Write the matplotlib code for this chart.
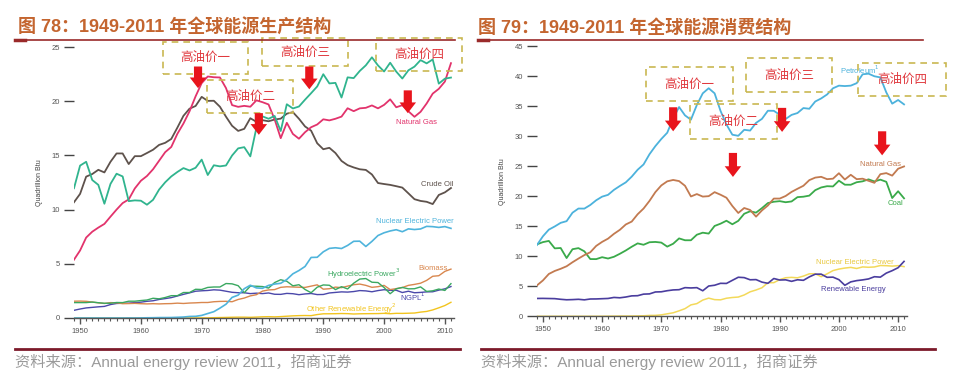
import matplotlib
matplotlib.use('Agg')
import matplotlib.pyplot as plt
import numpy as np
from matplotlib.patches import Rectangle
from matplotlib.lines import Line2D

plt.rcParams['font.family'] = ['Liberation Sans', 'Noto Sans CJK SC']

years = np.arange(1949, 2012)

# ---- production (quadrillion Btu), 1949..2011
prod_crude = [10.68,
              11.45, 13.04, 13.28, 13.67, 13.43, 14.41, 15.18, 15.18, 14.20, 14.93,
              14.93, 15.22, 15.52, 15.97, 16.16, 16.52, 17.56, 18.65, 19.31, 19.56,
              20.40, 20.03, 20.04, 19.49, 18.57, 17.73, 17.26, 17.45, 18.43, 18.10,
              18.25, 18.15, 18.31, 18.39, 18.85, 18.99, 18.38, 17.67, 17.28, 16.12,
              15.57, 15.70, 15.22, 14.49, 14.10, 13.89, 13.72, 13.66, 13.24, 12.45,
              12.36, 12.28, 12.16, 12.03, 11.50, 10.96, 10.80, 10.72, 10.51, 11.35,
              11.59, 11.99]
prod_gas = [5.38,
            6.23, 7.42, 7.96, 8.34, 8.68, 9.35, 10.00, 10.60, 10.94, 11.95,
            12.66, 13.10, 13.72, 14.51, 15.30, 15.78, 16.99, 17.94, 19.07, 20.45,
            21.67, 22.28, 22.21, 22.19, 21.21, 19.64, 19.48, 19.57, 19.49, 20.08,
            19.91, 19.70, 18.32, 16.59, 18.01, 16.98, 16.54, 17.14, 17.60, 17.85,
            18.33, 18.23, 18.38, 18.58, 19.35, 19.08, 19.34, 19.39, 19.61, 19.34,
            19.66, 20.17, 19.44, 19.63, 19.07, 18.56, 19.02, 19.79, 20.70, 21.14,
            21.81, 23.51]
prod_coal = [11.97,
             14.06, 14.41, 12.73, 12.28, 10.54, 12.37, 13.31, 13.06, 10.78, 10.85,
             10.82, 10.45, 10.90, 11.85, 12.52, 13.06, 13.47, 13.83, 13.61, 13.86,
             14.61, 13.19, 14.09, 13.99, 14.07, 14.99, 15.65, 15.76, 14.91, 17.54,
             18.60, 18.38, 18.64, 17.25, 19.72, 19.33, 19.51, 20.14, 20.74, 21.36,
             22.49, 21.64, 21.69, 20.34, 22.20, 22.13, 22.79, 23.31, 24.05, 23.30,
             22.74, 23.55, 22.73, 22.09, 22.85, 23.19, 23.79, 23.49, 23.85, 21.62,
             22.08, 22.18]
prod_ngpl = [0.71,
             0.83, 0.93, 0.98, 1.03, 1.07, 1.24, 1.34, 1.36, 1.37, 1.42,
             1.46, 1.54, 1.59, 1.71, 1.79, 1.88, 2.03, 2.18, 2.32, 2.47,
             2.51, 2.54, 2.60, 2.57, 2.47, 2.37, 2.33, 2.33, 2.25, 2.29,
             2.25, 2.31, 2.19, 2.18, 2.27, 2.24, 2.15, 2.22, 2.26, 2.16,
             2.17, 2.31, 2.36, 2.41, 2.39, 2.44, 2.53, 2.50, 2.42, 2.53,
             2.61, 2.55, 2.56, 2.35, 2.47, 2.33, 2.36, 2.41, 2.42, 2.57,
             2.69, 2.90]
nuclear = [0,
           0, 0, 0, 0, 0, 0, 0, 0, 0.002, 0.002,
           0.006, 0.02, 0.026, 0.038, 0.04, 0.043, 0.064, 0.088, 0.142, 0.154,
           0.239, 0.413, 0.584, 0.910, 1.272, 1.900, 2.111, 2.702, 3.024, 2.776,
           2.739, 3.008, 3.131, 3.203, 3.553, 4.076, 4.380, 4.754, 5.587, 5.602,
           6.104, 6.422, 6.479, 6.410, 6.694, 7.075, 7.087, 6.597, 7.068, 7.610,
           7.862, 8.029, 8.145, 7.959, 8.222, 8.161, 8.215, 8.455, 8.427, 8.356,
           8.434, 8.269]
prod_hydro = [1.42,
              1.42, 1.42, 1.47, 1.41, 1.36, 1.36, 1.43, 1.42, 1.55, 1.55,
              1.61, 1.66, 1.82, 1.77, 1.89, 2.06, 2.06, 2.35, 2.35, 2.65,
              2.63, 2.82, 2.86, 2.86, 3.18, 3.15, 2.98, 2.33, 2.94, 2.93,
              2.90, 2.76, 3.27, 3.53, 3.39, 2.97, 3.07, 2.63, 2.33, 2.84,
              3.05, 3.02, 2.62, 2.89, 2.68, 3.21, 3.59, 3.64, 3.30, 3.27,
              2.81, 2.24, 2.69, 2.82, 2.69, 2.70, 2.87, 2.45, 2.51, 2.67,
              2.54, 3.17]
prod_biomass = [1.55,
                1.56, 1.54, 1.47, 1.40, 1.34, 1.42, 1.40, 1.32, 1.33, 1.35,
                1.32, 1.30, 1.32, 1.30, 1.32, 1.33, 1.37, 1.34, 1.38, 1.40,
                1.43, 1.43, 1.50, 1.53, 1.54, 1.50, 1.71, 1.84, 2.04, 2.15,
                2.48, 2.59, 2.62, 2.83, 2.88, 2.86, 2.84, 2.82, 2.94, 3.06,
                2.66, 2.70, 2.85, 2.80, 2.94, 3.07, 3.13, 3.01, 2.83, 2.89,
                3.01, 2.62, 2.71, 2.81, 3.01, 3.10, 3.21, 3.47, 3.85, 3.90,
                4.30, 4.51]
prod_other = [0,
              0, 0, 0, 0, 0, 0, 0, 0, 0, 0,
              0.001, 0.002, 0.002, 0.004, 0.004, 0.004, 0.004, 0.007, 0.009, 0.009,
              0.011, 0.012, 0.031, 0.043, 0.053, 0.070, 0.078, 0.077, 0.064, 0.084,
              0.110, 0.123, 0.105, 0.129, 0.165, 0.198, 0.219, 0.229, 0.217, 0.317,
              0.386, 0.390, 0.397, 0.413, 0.401, 0.368, 0.389, 0.396, 0.403, 0.408,
              0.430, 0.394, 0.430, 0.425, 0.441, 0.459, 0.543, 0.606, 0.745, 0.940,
              1.15, 1.45]

# ---- consumption
cons_petro = [11.88,
              13.32, 14.43, 14.96, 15.56, 15.84, 17.25, 17.94, 17.93, 18.53, 19.32,
              19.92, 20.22, 21.05, 21.70, 22.30, 23.25, 24.40, 25.28, 26.98, 28.34,
              29.52, 30.56, 32.95, 34.84, 33.45, 32.73, 35.18, 37.12, 37.97, 37.12,
              34.20, 31.93, 30.23, 30.05, 31.05, 30.92, 32.20, 32.87, 34.22, 34.21,
              33.55, 32.85, 33.53, 33.84, 34.67, 34.55, 35.76, 36.27, 36.93, 37.96,
              38.40, 38.33, 38.40, 38.81, 40.29, 40.39, 39.96, 39.77, 37.28, 35.40,
              36.01, 35.28]
cons_gas = [5.15,
            5.97, 7.05, 7.55, 7.91, 8.33, 9.00, 9.61, 10.19, 10.66, 11.72,
            12.39, 12.93, 13.73, 14.40, 15.29, 15.77, 16.99, 17.94, 19.21, 20.68,
            21.79, 22.47, 22.70, 22.51, 21.73, 19.95, 20.35, 19.93, 20.00, 20.67,
            20.24, 19.74, 18.36, 17.20, 18.03, 17.70, 16.59, 17.63, 18.45, 19.60,
            19.60, 20.03, 20.71, 21.23, 21.73, 22.67, 23.09, 23.22, 22.83, 22.91,
            23.82, 22.77, 23.56, 22.83, 22.91, 22.56, 22.22, 23.66, 23.84, 23.42,
            24.57, 24.95]
cons_coal = [11.98,
             12.35, 12.55, 11.31, 11.37, 9.70, 11.17, 11.35, 10.82, 9.53, 9.52,
             9.84, 9.62, 9.91, 10.41, 10.96, 11.58, 12.14, 11.91, 12.33, 12.38,
             12.27, 11.60, 12.08, 12.97, 12.66, 12.66, 13.58, 13.92, 13.77, 15.04,
             15.42, 15.91, 15.32, 15.89, 17.07, 17.48, 17.26, 18.01, 18.85, 19.07,
             19.17, 18.99, 19.12, 19.84, 19.91, 20.09, 21.00, 21.45, 21.66, 21.62,
             22.58, 21.91, 21.90, 22.32, 22.47, 22.80, 22.45, 22.75, 22.39, 19.69,
             20.82, 19.64]
cons_renew = [2.97,
              2.98, 2.96, 2.94, 2.83, 2.75, 2.78, 2.83, 2.74, 2.88, 2.89,
              2.93, 2.97, 3.14, 3.08, 3.21, 3.40, 3.43, 3.69, 3.73, 4.05,
              4.08, 4.26, 4.39, 4.43, 4.77, 4.72, 4.77, 4.25, 5.04, 5.17,
              5.49, 5.47, 5.99, 6.50, 6.44, 6.08, 6.11, 5.69, 5.49, 6.29,
              6.04, 6.07, 5.82, 6.08, 5.99, 6.56, 7.01, 7.02, 6.49, 6.52,
              6.10, 5.16, 5.73, 5.94, 6.06, 6.22, 6.59, 6.52, 7.19, 7.60,
              8.09, 9.14]

# annotation boxes: (label, x0, x1, y0, y1) in data units
boxes_prod = [('高油价一', 1963.7, 1977.6, 22.5, 25.5),
              ('高油价二', 1970.9, 1985.0, 18.9, 22.0),
              ('高油价三', 1979.9, 1994.1, 23.25, 25.8),
              ('高油价四', 1998.7, 2012.8, 22.8, 25.8)]
arrows_prod = [(1969.4, 23.2, 21.2), (1979.4, 18.9, 16.9),
               (1987.7, 23.2, 21.1), (2003.9, 21.0, 18.9)]
boxes_cons = [('高油价一', 1967.4, 1982.1, 35.8, 41.5),
              ('高油价二', 1974.8, 1989.5, 29.5, 35.3),
              ('高油价三', 1984.3, 1998.8, 37.3, 43.0),
              ('高油价四', 2003.2, 2018.1, 36.7, 42.2)]
arrows_cons = [(1972.0, 34.8, 30.8), (1982.1, 27.2, 23.2),
               (1990.4, 34.7, 30.7), (2007.3, 30.8, 26.8)]

W, H = 955, 381
fig = plt.figure(figsize=(W / 100, H / 100), dpi=100)


def fx(px):
    return px / W


def fy(py):
    return 1 - py / H


def style_axes(ax, ymax, ystep):
    ax.set_xlim(1949, 2011.5)
    ax.set_ylim(0, ymax)
    for s in ['top', 'right', 'left']:
        ax.spines[s].set_visible(False)
    ax.spines['bottom'].set_color('#555555')
    ax.spines['bottom'].set_linewidth(1.0)
    ax.set_yticks(np.arange(0, ymax + 1, ystep))
    ax.set_xticks(np.arange(1950, 2011, 10))
    ax.set_xticks(np.arange(1949, 2012, 1), minor=True)
    ax.tick_params(axis='y', direction='out', length=7, width=1.0, color='#444444',
                   labelsize=5.5, labelcolor='#555555', pad=3)
    ax.tick_params(axis='x', which='major', direction='out', length=4, width=1.0,
                   color='#555555', labelsize=5.5, labelcolor='#555555', pad=3)
    ax.tick_params(axis='x', which='minor', direction='out', length=2.5, width=0.8,
                   color='#555555')
    ax.set_ylabel('Quadrillion Btu', fontsize=5, color='#444444', labelpad=6)


def annotate(ax, boxes, arrows):
    for label, x0, x1, y0, y1 in boxes:
        ax.add_patch(Rectangle((x0, y0), x1 - x0, y1 - y0, fill=False,
                               edgecolor='#c9b852', lw=1.2, linestyle=(0, (4, 3)),
                               clip_on=False, zorder=5))
        ax.text((x0 + x1) / 2, (y0 + y1) / 2, label, ha='center', va='center',
                fontsize=9, color='#e0393e', family='Noto Sans CJK SC',
                clip_on=False, zorder=6)
    for x, y0, y1 in arrows:
        ax.annotate('', xy=(x, y1), xytext=(x, y0),
                    arrowprops=dict(arrowstyle='simple,head_length=0.55,head_width=0.85,tail_width=0.42',
                                    fc='#e8141c', ec='none', mutation_scale=14,
                                    shrinkA=0, shrinkB=0),
                    annotation_clip=False, zorder=7)


# ---------------- left: production
ax1 = fig.add_axes([fx(74), fy(318), fx(454) - fx(74), (318 - 47) / H])
style_axes(ax1, 25, 5)
ax1.plot(years, prod_other, color='#f2c41e', lw=1.0)
ax1.plot(years, prod_ngpl, color='#4b48aa', lw=1.0)
ax1.plot(years, prod_biomass, color='#d9874e', lw=1.0)
ax1.plot(years, prod_hydro, color='#3aa860', lw=1.0)
ax1.plot(years, nuclear, color='#4fb4dc', lw=1.2)
ax1.plot(years, prod_crude, color='#5e524c', lw=1.3)
ax1.plot(years, prod_gas, color='#e2336c', lw=1.3)
ax1.plot(years, prod_coal, color='#30b48e', lw=1.3)

lab = dict(fontsize=5.5, clip_on=False)
ax1.text(2005.4, 18.0, 'Natural Gas', color='#e2336c', ha='center', va='center', **lab)
ax1.text(2011.4, 12.27, 'Crude Oil', color='#5e524c', ha='right', va='center', **lab)
ax1.text(2011.4, 8.86, 'Nuclear Electric Power', color='#4fb4dc', ha='right', va='center', **lab)
ax1.text(2010.5, 4.6, 'Biomass', color='#d9874e', ha='right', va='center', **lab)
ax1.text(1996.7, 4.06, 'Hydroelectric Power$^3$', color='#3aa860', ha='center', va='center', **lab)
ax1.text(2004.8, 1.94, 'NGPL$^1$', color='#4b48aa', ha='center', va='center', **lab)
ax1.text(1994.6, 0.83, 'Other Renewable Energy$^2$', color='#f2c41e', ha='center', va='center', **lab)
annotate(ax1, boxes_prod, arrows_prod)

# ---------------- right: consumption
ax2 = fig.add_axes([fx(537), fy(316.3), fx(907) - fx(537), (316.3 - 46) / H])
style_axes(ax2, 45, 5)
ax2.plot(years, nuclear, color='#f3d95a', lw=1.1)
ax2.plot(years, cons_renew, color='#4a3d9e', lw=1.2)
ax2.plot(years, cons_coal, color='#3aaa4a', lw=1.3)
ax2.plot(years, cons_gas, color='#c27a50', lw=1.3)
ax2.plot(years, cons_petro, color='#4cb2dc', lw=1.3)

ax2.text(2003.5, 41.0, 'Petroleum$^1$', color='#4cb2dc', ha='center', va='center', **lab)
ax2.text(2007.1, 25.35, 'Natural Gas', color='#c27a50', ha='center', va='center', **lab)
ax2.text(2009.6, 18.7, 'Coal', color='#3aaa4a', ha='center', va='center', **lab)
ax2.text(2002.7, 9.0, 'Nuclear Electric Power', color='#e8c840', ha='center', va='center', **lab)
ax2.text(2002.4, 4.4, 'Renewable Energy', color='#4a3d9e', ha='center', va='center', **lab)
annotate(ax2, boxes_cons, arrows_cons)

# ---------------- titles, rules, source
title_kw = dict(fontsize=13, fontweight='bold', color='#c4652f', va='center', ha='left',
                family=['Liberation Sans', 'Noto Sans CJK SC'])
fig.text(fx(18), fy(28), '图 78：1949-2011 年全球能源生产结构', **title_kw)
fig.text(fx(478), fy(28), '图 79：1949-2011 年全球能源消费结构', **title_kw)

for x0, x1 in [(15, 455), (478, 923)]:
    fig.add_artist(Line2D([fx(x0), fx(x1)], [fy(40), fy(40)], color='#9a2a2a', lw=1.2))
    fig.add_artist(Line2D([fx(x0), fx(x0 + 10)], [fy(40), fy(40)], color='#9a2a2a', lw=2.5))
for x0, x1 in [(15, 460), (481, 935)]:
    fig.add_artist(Line2D([fx(x0), fx(x1)], [fy(349), fy(349)], color='#7c1a2a', lw=2.0))

src_kw = dict(fontsize=11, color='#9a9a9a', va='center', ha='left',
              family=['Liberation Sans', 'Noto Sans CJK SC'])
fig.text(fx(15), fy(362), '资料来源：Annual energy review 2011，招商证券', **src_kw)
fig.text(fx(481), fy(362), '资料来源：Annual energy review 2011，招商证券', **src_kw)

fig.savefig('out.png', dpi=100)
